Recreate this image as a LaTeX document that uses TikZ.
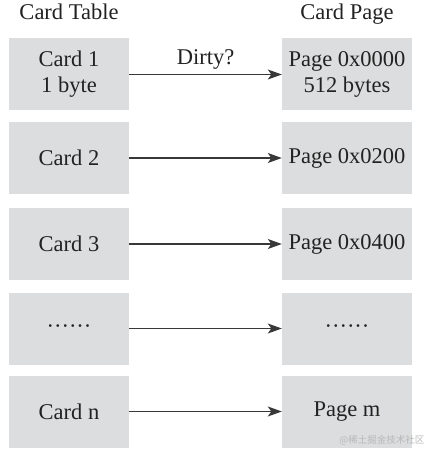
\documentclass[tikz,border=0pt]{standalone}
\usepackage{fontspec}
\setmainfont{Liberation Serif}
\newfontfamily\cjk{Noto Sans CJK SC}
\usetikzlibrary{arrows.meta}
\definecolor{boxgray}{HTML}{DCDDDE}
\definecolor{ink}{HTML}{222222}
\definecolor{wmark}{HTML}{B8B8B8}
\newcommand{\sixdots}{\textperiodcentered\textperiodcentered\textperiodcentered\textperiodcentered\textperiodcentered\textperiodcentered}
\begin{document}
\begin{tikzpicture}[x=1pt,y=-1pt,
  every node/.style={font=\fontsize{22.5}{26}\selectfont, text=ink},
  cardbox/.style={fill=boxgray, minimum width=120pt, minimum height=72pt, inner sep=0pt, align=center},
  pagebox/.style={fill=boxgray, minimum width=130pt, minimum height=72pt, inner sep=0pt, align=center},
  link/.style={draw=ink!90, line width=1.1pt, -{Stealth[length=14pt,width=10pt,inset=3.5pt]}},
  title/.style={anchor=base}]
\useasboundingbox (0,0) rectangle (440,457);
\node[title] (ttab) at (69,20) {Card Table};
\node[title] (tpage) at (347,20) {Card Page};
\node[cardbox] (c1) at (69,74.5) {Card 1\\1 byte};
\node[cardbox] (c2) at (69,158) {Card 2};
\node[cardbox] (c3) at (69,244) {Card 3};
\node[cardbox] (c4) at (69,328.5) {};
\node[anchor=base] (d4) at (69,333) {\sixdots};
\node[cardbox] (c5) at (69,411.5) {Card n};
\node[pagebox] (p1) at (347,74.5) {Page 0x0000\\512 bytes};
\node[pagebox] (p2) at (347,158) {Page 0x0200};
\node[pagebox] (p3) at (347,244) {Page 0x0400};
\node[pagebox] (p4) at (347,328.5) {};
\node[anchor=base] (e4) at (347,333) {\sixdots};
\node[pagebox] (p5) at (347,411.5) {Page m};
\draw[link] (c1) -- node[above=1pt] (dirty) {Dirty?} (p1);
\draw[link] (c2) -- (p2);
\draw[link] (c3) -- (p3);
\draw[link] (c4) -- (p4);
\draw[link] (c5) -- (p5);
\node[anchor=base east, font=\cjk\fontsize{9.5}{11}\selectfont, text=wmark] (wm) at (428,443) {@稀土掘金技术社区};
\end{tikzpicture}
\end{document}
